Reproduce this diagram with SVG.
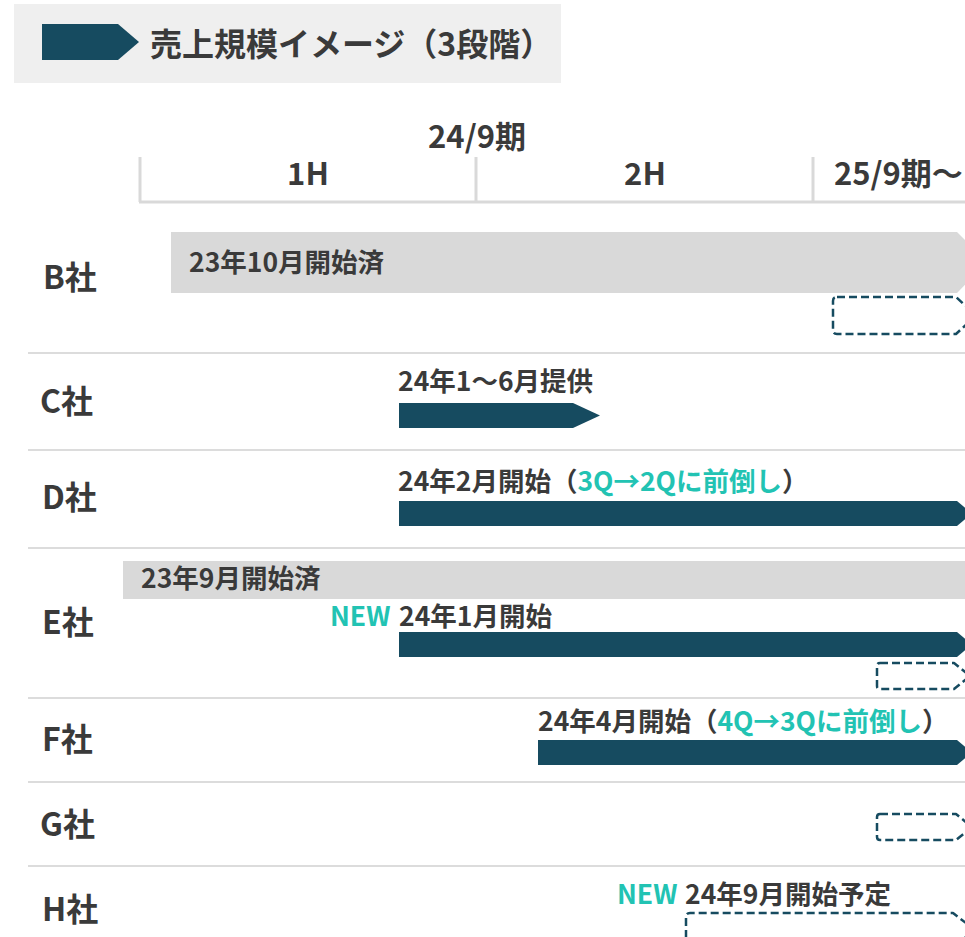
<svg xmlns="http://www.w3.org/2000/svg" width="965" height="937" viewBox="0 0 965 937">
  <style>
    text { font-family: "Noto Sans CJK JP", "Noto Sans", sans-serif; font-weight: 700; fill: #3a3a3a; }
    .title { font-size: 32px; }
    .hdr { font-size: 31px; }
    .lbl { font-size: 32px; }
    .bt { font-size: 26.5px; }
    .teal { fill: #22c3b3; }
    .grid { stroke: #d9d9d9; stroke-width: 3; fill: none; }
    .sep { stroke: #dcdcdc; stroke-width: 2; fill: none; }
    .dark { fill: #164b60; }
    .gray { fill: #d9d9d9; }
    .dash { fill: none; stroke: #164b60; stroke-width: 2.5; stroke-dasharray: 8 4; stroke-linejoin: round; }
  </style>

  <g id="title">
    <rect x="14" y="4" width="547" height="79" fill="#efefef"/>
    <polygon class="dark" points="42,24 118,24 139,42 118,60 42,60"/>
    <text class="title" x="150" y="56">売上規模イメージ（3段階）</text>
  </g>

  <g id="header">
    <text class="hdr" x="477" y="148" text-anchor="middle">24/9期</text>
    <path class="grid" d="M140,157 V202 M476,157 V202 M813,157 V202 M139,202 H965"/>
    <text class="hdr" x="308" y="185" text-anchor="middle">1H</text>
    <text class="hdr" x="645" y="185" text-anchor="middle">2H</text>
    <text class="hdr" x="834" y="185">25/9期〜</text>
  </g>

  <g id="separators">
    <path class="sep" d="M28,353 H965 M28,450 H965 M28,548 H965 M28,698 H965 M28,782 H965 M28,866 H965"/>
  </g>

  <g id="rowB">
    <text class="lbl" x="43" y="289">B社</text>
    <polygon class="gray" points="171,232 957,232 987,262 957,293 171,293"/>
    <text class="bt" x="189" y="272">23年10月開始済</text>
    <path class="dash" d="M837,297 H956 L976,315.5 L956,334 H837 Q833,334 833,330 V301 Q833,297 837,297 Z"/>
  </g>

  <g id="rowC">
    <text class="lbl" x="40" y="413">C社</text>
    <text class="bt" x="398" y="391">24年1〜6月提供</text>
    <polygon class="dark" points="399,403 573,403 600,415.5 573,428 399,428"/>
  </g>

  <g id="rowD">
    <text class="lbl" x="42" y="509">D社</text>
    <text class="bt" x="398" y="491">24年2月開始（<tspan class="teal">3Q→2Qに前倒し</tspan>）</text>
    <polygon class="dark" points="399,501 957,501 972,513.5 957,526 399,526"/>
  </g>

  <g id="rowE">
    <text class="lbl" x="42" y="634">E社</text>
    <rect class="gray" x="123" y="561" width="842" height="38"/>
    <text class="bt" x="141" y="588">23年9月開始済</text>
    <text class="bt teal" x="330" y="626">NEW</text>
    <text class="bt" x="399" y="626">24年1月開始</text>
    <polygon class="dark" points="399,632 957,632 972,644.5 957,657 399,657"/>
    <path class="dash" d="M880,663 H954 L970,676 L954,689 H880 Q877,689 877,686 V666 Q877,663 880,663 Z"/>
  </g>

  <g id="rowF">
    <text class="lbl" x="42" y="751">F社</text>
    <text class="bt" x="538" y="731">24年4月開始（<tspan class="teal">4Q→3Qに前倒し</tspan>）</text>
    <polygon class="dark" points="538,740 957,740 972,752.5 957,765 538,765"/>
  </g>

  <g id="rowG">
    <text class="lbl" x="40" y="836">G社</text>
    <path class="dash" d="M880,814 H956 L972,827 L956,840 H880 Q877,840 877,837 V817 Q877,814 880,814 Z"/>
  </g>

  <g id="rowH">
    <text class="lbl" x="42" y="921">H社</text>
    <text class="bt teal" x="617" y="904">NEW</text>
    <text class="bt" x="685" y="904">24年9月開始予定</text>
    <path class="dash" d="M686,950 V917 Q686,913 690,913 H953 L975,930 L953,947"/>
  </g>
</svg>
